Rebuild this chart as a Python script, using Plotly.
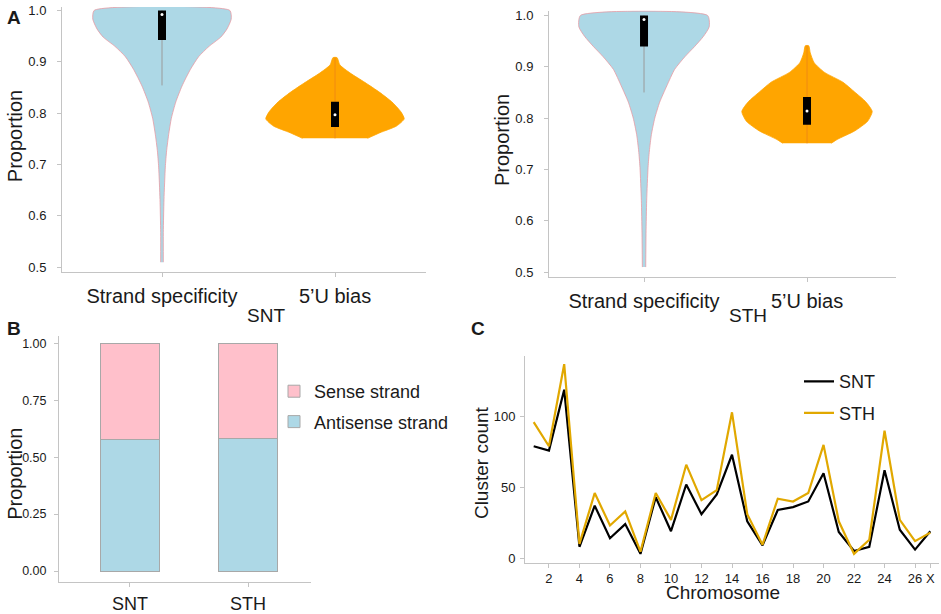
import plotly.graph_objects as go

W, H = 941, 614
FONT = "Liberation Sans"

# ---------------- Panel A data (violin density profiles) ----------------
violin_categories = ["Strand specificity", "5\u2019U bias"]

snt_strand_y = [0.510, 0.568, 0.632, 0.695, 0.727, 0.758, 0.790, 0.822, 0.853, 0.885, 0.910, 0.930, 0.948, 0.964, 0.983, 1.000]
snt_strand_d = [0.019, 0.019, 0.029, 0.048, 0.067, 0.096, 0.135, 0.200, 0.290, 0.410, 0.530, 0.680, 0.850, 0.940, 1.000, 0.980]
snt_bias_y = [0.751, 0.762, 0.775, 0.789, 0.803, 0.822, 0.840, 0.860, 0.878, 0.894, 0.908]
snt_bias_d = [0.470, 0.650, 0.890, 1.000, 0.950, 0.820, 0.650, 0.430, 0.220, 0.070, 0.030]

sth_strand_y = [0.510, 0.576, 0.640, 0.704, 0.736, 0.768, 0.800, 0.831, 0.863, 0.895, 0.920, 0.940, 0.959, 0.978, 1.000]
sth_strand_d = [0.026, 0.031, 0.041, 0.062, 0.082, 0.113, 0.165, 0.240, 0.350, 0.470, 0.630, 0.780, 0.910, 1.000, 0.975]
sth_bias_y = [0.751, 0.759, 0.775, 0.794, 0.813, 0.832, 0.851, 0.870, 0.889, 0.908, 0.927, 0.941]
sth_bias_d = [0.370, 0.470, 0.730, 0.930, 1.000, 0.900, 0.730, 0.550, 0.270, 0.110, 0.050, 0.026]

# inner box statistics: [strand specificity, 5'U bias]
snt_q1 = [0.9425, 0.773]
snt_q3 = [1.000, 0.822]
snt_median = [0.992, 0.797]
snt_whisk_lo = [0.854, 0.751]
snt_whisk_hi = [1.000, 0.908]

sth_q1 = [0.9395, 0.787]
sth_q3 = [1.000, 0.841]
sth_median = [0.992, 0.814]
sth_whisk_lo = [0.850, 0.751]
sth_whisk_hi = [1.000, 0.941]

# ---------------- Panel B data ----------------
groups = ["SNT", "STH"]
antisense = [0.577, 0.581]
sense = [0.423, 0.419]

# ---------------- Panel C data ----------------
chromosomes = ["1", "2", "3", "4", "5", "6", "7", "8", "9", "10", "11", "12", "13", "14",
               "15", "16", "17", "18", "19", "20", "21", "22", "23", "24", "25", "26", "X"]
snt_counts = [79, 76, 119, 8, 37, 14, 24, 3, 43, 19, 52, 31, 45, 73,
              26, 9, 34, 36, 40, 60, 18.5, 5, 8, 62, 20, 6, 19]
sth_counts = [96, 79, 137, 10, 46, 23, 33, 4.5, 46, 27, 66, 41, 48, 103,
              31, 9.5, 42, 40, 46, 80, 26, 3, 13, 90, 27, 12, 18]
chrom_ticks = ["2", "4", "6", "8", "10", "12", "14", "16", "18", "20", "22", "24", "26", "X"]

# ---------------- styling ----------------
BLUE = "#ADD8E6"
PINK = "#FFC0CB"
ORANGE = "#FFA500"
GOLD = "#E1A800"
AXC = "#C4C4C4"
TXT = "#1a1a1a"
HALF = 0.40  # max half width of violins (category units)

fig = go.Figure()


def violin(xc, ys, ds, fill, outline, xa, ya):
    xs = [xc - d * HALF for d in ds] + [xc + d * HALF for d in reversed(ds)]
    yy = list(ys) + list(reversed(ys))
    fig.add_trace(go.Scatter(x=xs, y=yy, fill="toself", fillcolor=fill, mode="lines",
                             line=dict(color=outline, width=0.8, shape="spline", smoothing=0.6),
                             xaxis=xa, yaxis=ya, showlegend=False, hoverinfo="skip"))


def inner(xc, lo, hi, q1, q3, med, wcol, xa, ya):
    fig.add_trace(go.Scatter(x=[xc, xc], y=[lo, hi], mode="lines", line=dict(color=wcol, width=1),
                             xaxis=xa, yaxis=ya, showlegend=False, hoverinfo="skip"))
    fig.add_trace(go.Scatter(x=[xc, xc], y=[q1, q3], mode="lines", line=dict(color="black", width=8),
                             xaxis=xa, yaxis=ya, showlegend=False, hoverinfo="skip"))
    fig.add_trace(go.Scatter(x=[xc], y=[med], mode="markers", marker=dict(color="white", size=3),
                             xaxis=xa, yaxis=ya, showlegend=False, hoverinfo="skip"))


# Panel A left (SNT)
violin(0, snt_strand_y, snt_strand_d, BLUE, "#E79AA3", "x", "y")
violin(1, snt_bias_y, snt_bias_d, ORANGE, ORANGE, "x", "y")
inner(0, snt_whisk_lo[0], snt_whisk_hi[0], snt_q1[0], snt_q3[0], snt_median[0], "#9a9a9a", "x", "y")
inner(1, snt_whisk_lo[1], snt_whisk_hi[1], snt_q1[1], snt_q3[1], snt_median[1], "#F08A10", "x", "y")

# Panel A right (STH)
violin(0, sth_strand_y, sth_strand_d, BLUE, "#E79AA3", "x2", "y2")
violin(1, sth_bias_y, sth_bias_d, ORANGE, ORANGE, "x2", "y2")
inner(0, sth_whisk_lo[0], sth_whisk_hi[0], sth_q1[0], sth_q3[0], sth_median[0], "#9a9a9a", "x2", "y2")
inner(1, sth_whisk_lo[1], sth_whisk_hi[1], sth_q1[1], sth_q3[1], sth_median[1], "#F08A10", "x2", "y2")

# Panel B stacked bars
fig.add_trace(go.Bar(x=groups, y=antisense, name="Antisense strand", marker=dict(color=BLUE, line=dict(color="#A8A8A8", width=1)),
                     width=0.5, xaxis="x3", yaxis="y3", legend="legend", legendgroup="a", legendrank=2))
fig.add_trace(go.Bar(x=groups, y=sense, name="Sense strand", marker=dict(color=PINK, line=dict(color="#A8A8A8", width=1)),
                     width=0.5, xaxis="x3", yaxis="y3", legend="legend", legendgroup="s", legendrank=1))

# Panel C lines
fig.add_trace(go.Scatter(x=chromosomes, y=snt_counts, mode="lines", name="SNT", line=dict(color="black", width=2.2),
                         xaxis="x4", yaxis="y4", legend="legend2", legendgroup="n", legendrank=1))
fig.add_trace(go.Scatter(x=chromosomes, y=sth_counts, mode="lines", name="STH", line=dict(color=GOLD, width=2.2),
                         xaxis="x4", yaxis="y4", legend="legend2", legendgroup="h", legendrank=2))


def dx(a, b):
    return [a / W, b / W]


def dy(top, bottom):
    return [1 - bottom / H, 1 - top / H]


common = dict(showline=True, linecolor=AXC, linewidth=1, ticks="outside", ticklen=4, tickcolor=AXC,
              showgrid=False, zeroline=False, fixedrange=True, tickfont=dict(family=FONT, color=TXT))

fig.update_layout(
    autosize=True, margin=dict(l=0, r=0, t=0, b=0),
    paper_bgcolor="white", plot_bgcolor="white",
    font=dict(family=FONT, color=TXT),
    barmode="stack",
    hovermode=False,
    xaxis=dict(**{**common, "tickfont": dict(family=FONT, color=TXT, size=20)}, domain=dx(62, 426), range=[-0.578, 1.526],
               tickvals=[0, 1], ticktext=violin_categories, anchor="y", ticklabelstandoff=2),
    yaxis=dict(**{**common, "tickfont": dict(family=FONT, color=TXT, size=13)}, domain=dy(3, 274), range=[0.4905, 1.0067],
               tickvals=[0.5, 0.6, 0.7, 0.8, 0.9, 1.0], ticktext=["0.5", "0.6", "0.7", "0.8", "0.9", "1.0"],
               anchor="x", ticklabelstandoff=8),
    xaxis2=dict(**{**common, "tickfont": dict(family=FONT, color=TXT, size=20)}, domain=dx(549, 896), range=[-0.583, 1.546],
                tickvals=[0, 1], ticktext=violin_categories, anchor="y2", ticklabelstandoff=2),
    yaxis2=dict(**{**common, "tickfont": dict(family=FONT, color=TXT, size=13)}, domain=dy(6.7, 279), range=[0.4905, 1.0095],
                tickvals=[0.5, 0.6, 0.7, 0.8, 0.9, 1.0], ticktext=["0.5", "0.6", "0.7", "0.8", "0.9", "1.0"],
                anchor="x2", ticklabelstandoff=8),
    xaxis3=dict(**{**common, "tickfont": dict(family=FONT, color=TXT, size=18)}, domain=dx(59, 310.7), range=[-0.6, 1.53],
                anchor="y3", ticklabelstandoff=1),
    yaxis3=dict(**{**common, "tickfont": dict(family=FONT, color=TXT, size=12.5)}, domain=dy(339, 591), range=[-0.0503, 1.033],
                tickvals=[0, 0.25, 0.5, 0.75, 1.0], ticktext=["0.00", "0.25", "0.50", "0.75", "1.00"],
                anchor="x3", ticklabelstandoff=5),
    xaxis4=dict(**{**common, "tickfont": dict(family=FONT, color=TXT, size=13)}, domain=dx(525, 939), range=[-0.57, 26.57],
                type="category", tickvals=chrom_ticks, anchor="y4", ticklabelstandoff=0),
    yaxis4=dict(**{**common, "tickfont": dict(family=FONT, color=TXT, size=13)}, domain=dy(359.3, 570.7), range=[-3.2, 143],
                tickvals=[0, 50, 100], anchor="x4", ticklabelstandoff=2),
    legend=dict(x=274 / W, y=1 - 377 / H, xanchor="left", yanchor="top", bgcolor="rgba(0,0,0,0)",
                font=dict(family=FONT, size=18, color=TXT), traceorder="grouped", tracegroupgap=4, itemwidth=30),
    legend2=dict(x=799 / W, y=1 - 367 / H, xanchor="left", yanchor="top", bgcolor="rgba(0,0,0,0)",
                 font=dict(family=FONT, size=18, color=TXT), traceorder="grouped", tracegroupgap=5, itemwidth=30),
)


def ann(text, x, y, size, bold=False, angle=0):
    fig.add_annotation(text=f"<b>{text}</b>" if bold else text, x=x / W, y=1 - y / H, xref="paper", yref="paper",
                       showarrow=False, xanchor="center", yanchor="middle", textangle=angle, borderpad=0,
                       font=dict(family=FONT, size=size, color=TXT))


ann("A", 14, 14, 19, bold=True)
ann("B", 14, 332, 19, bold=True)
ann("C", 478, 332, 19, bold=True)
ann("Proportion", 15, 135, 20, angle=-90)
ann("Proportion", 502, 139, 20, angle=-90)
ann("Proportion", 15, 480, 20, angle=-90)
ann("Cluster count", 481, 469, 19, angle=-90)
ann("Chromosome", 723, 601, 19)
ann("SNT", 266, 318, 19)
ann("STH", 748, 318, 19)

fig.write_html(
    "out.html",
    config={"displayModeBar": False, "staticPlot": True},
    default_width="100vw",
    default_height="100vh",
    post_script=(
        "var d=document.getElementById('{plot_id}');"
        "d.style.position='fixed';d.style.left='0px';d.style.top='0px';"
        "document.body.style.margin='0';document.body.style.overflow='hidden';"
        "document.documentElement.style.overflow='hidden';"
    ),
)
